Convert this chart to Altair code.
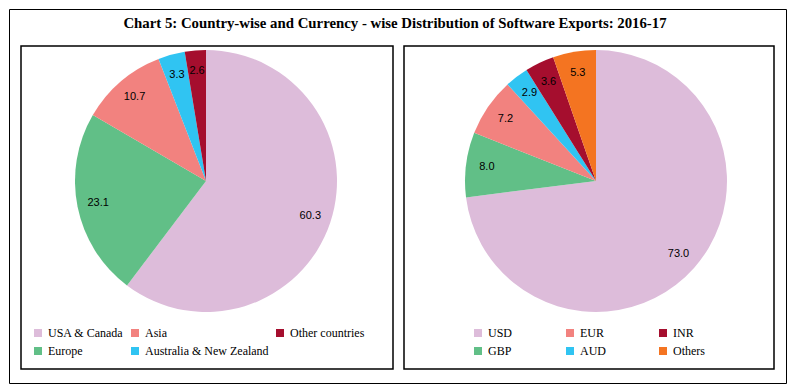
import altair as alt
import pandas as pd

title_text = "Chart 5: Country-wise and Currency - wise Distribution of Software Exports: 2016-17"

country_names = ["USA & Canada", "Europe", "Asia", "Australia & New Zealand", "Other countries"]
country_values = [60.3, 23.1, 10.7, 3.3, 2.6]
country_colors = ["#DDBCDA", "#61BF87", "#F2827F", "#30C4F2", "#A50E2E"]
country_legend_order = ["USA & Canada", "Asia", "Other countries", "Europe", "Australia & New Zealand"]

currency_names = ["USD", "GBP", "EUR", "AUD", "INR", "Others"]
currency_values = [73.0, 8.0, 7.2, 2.9, 3.6, 5.3]
currency_colors = ["#DDBCDA", "#61BF87", "#F2827F", "#30C4F2", "#A50E2E", "#F47421"]
currency_legend_order = ["USD", "EUR", "INR", "GBP", "AUD", "Others"]

SERIF = "Liberation Serif"
SANS = "Liberation Sans"


def make_df(names, values, key):
    return pd.DataFrame({
        key: names,
        "share_" + key: values,
        "order_" + key: list(range(len(names))),
        "label_" + key: [f"{v:.1f}" for v in values],
    })


def pie(names, values, colors, legend_order, key, cx, cy, r, label_r, legend_x, legend_y, col_pad):
    df = make_df(names, values, key)
    cmap = dict(zip(names, colors))
    base = alt.Chart(df).encode(
        theta=alt.Theta(f"share_{key}:Q", stack=True),
        order=alt.Order(f"order_{key}:Q", sort="ascending"),
    )
    arcs = base.mark_arc(radius=r).encode(
        x=alt.value(cx),
        y=alt.value(cy),
        color=alt.Color(
            f"{key}:N",
            scale=alt.Scale(domain=legend_order, range=[cmap[n] for n in legend_order]),
            legend=alt.Legend(
                orient="none", legendX=legend_x, legendY=legend_y, columns=3,
                direction="horizontal",
                title=None, symbolType="square", symbolSize=64, symbolStrokeWidth=0,
                labelFont=SERIF, labelFontSize=12, labelColor="black",
                rowPadding=6, columnPadding=col_pad, labelLimit=300, labelOffset=4,
            ),
        ),
    )
    labels = base.mark_text(radius=label_r, font=SANS, fontSize=11, color="black").encode(
        x=alt.value(cx),
        y=alt.value(cy),
        text=f"label_{key}:N",
    )
    return alt.layer(arcs, labels)


frame_df = pd.DataFrame({"p": [0]})
panel_left = alt.Chart(frame_df).mark_rect(fill=None, stroke="black", strokeWidth=1.5).encode(
    x=alt.value(12), x2=alt.value(384), y=alt.value(37), y2=alt.value(360))
panel_right = alt.Chart(frame_df).mark_rect(fill=None, stroke="black", strokeWidth=1.5).encode(
    x=alt.value(395), x2=alt.value(765), y=alt.value(37), y2=alt.value(360))

title_df = pd.DataFrame({"t": [title_text]})
title = alt.Chart(title_df).mark_text(font=SERIF, fontSize=14.8, fontWeight="bold", color="black").encode(
    x=alt.value(386), y=alt.value(15), text="t:N")

pie1 = pie(country_names, country_values, country_colors, country_legend_order, "country",
           197, 172, 131, 110, 23, 318, 5)
pie2 = pie(currency_names, currency_values, currency_colors, currency_legend_order, "currency",
           587, 172, 131, 110, 463, 318, 51)

chart = alt.layer(panel_left, panel_right, title, pie1, pie2).resolve_scale(
    color="independent", theta="independent"
).properties(
    width=777, height=374, padding=1, autosize=alt.AutoSizeParams(type="none")
).configure_view(stroke="black", strokeWidth=1)

chart.save("out.html", embed_options={"renderer": "svg", "actions": False})
